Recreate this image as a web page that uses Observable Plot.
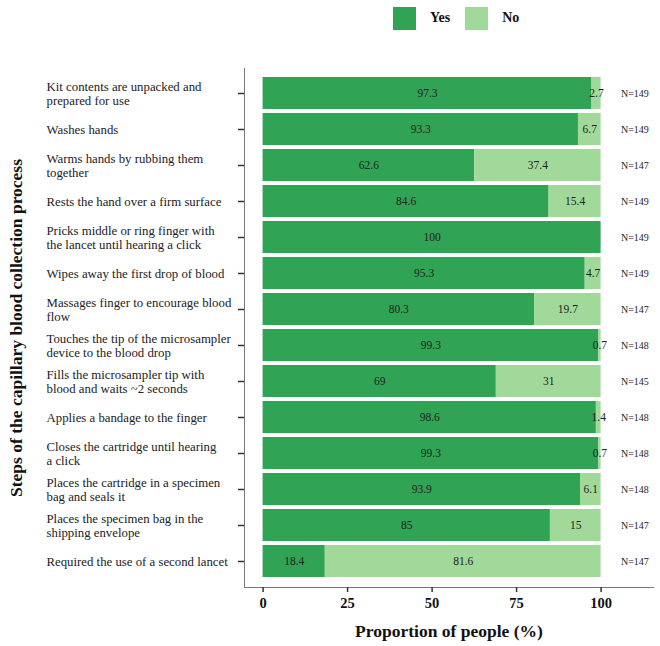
<!DOCTYPE html>
<html>
<head>
<meta charset="utf-8">
<script src="https://cdn.jsdelivr.net/npm/d3@7"></script>
<script src="https://cdn.jsdelivr.net/npm/@observablehq/plot@0.6"></script>
<style>
  body { margin: 0; background: #fff; }
  figure { margin: 0; }
  .lg-swatches {
    display: flex; align-items: center; height: 36px; margin: 0;
    padding: 0 0 0 393px; box-sizing: border-box;
    font-family: "Liberation Serif", serif; font-size: 14px; font-weight: bold; color: #111;
  }
  .lg-swatch { margin-right: 15px; }
  .lg-swatch svg { margin-right: 14px; }
</style>
</head>
<body>
<div id="chart"></div>
<script>
// Steps of the capillary blood collection process (top to bottom)
const steps = [
  "Kit contents are unpacked and\nprepared for use",
  "Washes hands",
  "Warms hands by rubbing them\ntogether",
  "Rests the hand over a firm surface",
  "Pricks middle or ring finger with\nthe lancet until hearing a click",
  "Wipes away the first drop of blood",
  "Massages finger to encourage blood\nflow",
  "Touches the tip of the microsampler\ndevice to the blood drop",
  "Fills the microsampler tip with\nblood and waits ~2 seconds",
  "Applies a bandage to the finger",
  "Closes the cartridge until hearing\na click",
  "Places the cartridge in a specimen\nbag and seals it",
  "Places the specimen bag in the\nshipping envelope",
  "Required the use of a second lancet"
];
const yesPct = [97.3, 93.3, 62.6, 84.6, 100, 95.3, 80.3, 99.3, 69, 98.6, 99.3, 93.9, 85, 18.4];
const noPct  = [2.7, 6.7, 37.4, 15.4, 0, 4.7, 19.7, 0.7, 31, 1.4, 0.7, 6.1, 15, 81.6];
const counts = [149, 149, 147, 149, 149, 149, 147, 148, 145, 148, 148, 148, 147, 147];
const responses = ["Yes", "No"];
const responseColors = ["#31a354", "#a1d99b"];
const xTicks = [0, 25, 50, 75, 100];
const xDomain = [-5.5, 115.5];
const countLabelX = 110;

const rows = steps.flatMap((step, i) => [
  {step, response: "Yes", value: yesPct[i]},
  {step, response: "No", value: noPct[i]}
]);
const countRows = steps.map((step, i) => ({step, n: counts[i]}));

const serif = "'Liberation Serif', 'Times New Roman', serif";

const chart = Plot.plot({
  width: 660,
  height: 610,
  marginLeft: 244,
  marginRight: 7,
  marginTop: 32,
  marginBottom: 59,
  style: {fontFamily: serif, background: "#fff", color: "#222"},
  x: {domain: xDomain},
  y: {domain: steps, paddingInner: 0.1, paddingOuter: 0.15},
  color: {domain: responses, range: responseColors, legend: true, className: "lg", swatchSize: 23},
  marks: [
    Plot.barX(rows, {x: "value", y: "step", fill: "response"}),
    Plot.textX(rows, Plot.stackX({
      filter: d => d.value > 0,
      x: "value", y: "step", z: "response",
      text: d => String(d.value),
      fill: "#222", fontSize: 11.5
    })),
    Plot.text(countRows, {
      x: () => countLabelX, y: "step",
      text: d => `N=${d.n}`, fill: "#222", fontSize: 10
    }),
    Plot.frame({anchor: "left", stroke: "#777", strokeWidth: 1}),
    Plot.frame({anchor: "bottom", stroke: "#777", strokeWidth: 1}),
    // y ticks stay at the panel edge; the step names are left-aligned further out
    Plot.axisY({tickSize: 6, tickFormat: () => "", stroke: "#333", strokeWidth: 1.5, label: null}),
    Plot.axisY({
      tickSize: 0, tickPadding: 3, textAnchor: "start", dx: -195,
      fontSize: 12.8, lineHeight: 1.08, fill: "#222", label: null
    }),
    Plot.axisX({
      ticks: xTicks, tickSize: 5, tickPadding: 5, fontSize: 14.5, fontWeight: "bold",
      stroke: "#333", strokeWidth: 1.5, fill: "#111", label: null
    }),
    Plot.text(["Proportion of people (%)"], {
      frameAnchor: "bottom", dy: 49, fontSize: 17.5, fontWeight: "bold", fill: "#111"
    }),
    Plot.text(["Steps of the capillary blood collection process"], {
      frameAnchor: "left", textAnchor: "middle", rotate: -90, dx: -228,
      fontSize: 17.5, fontWeight: "bold", fill: "#111"
    })
  ]
});

document.getElementById("chart").append(chart);
</script>
</body>
</html>
